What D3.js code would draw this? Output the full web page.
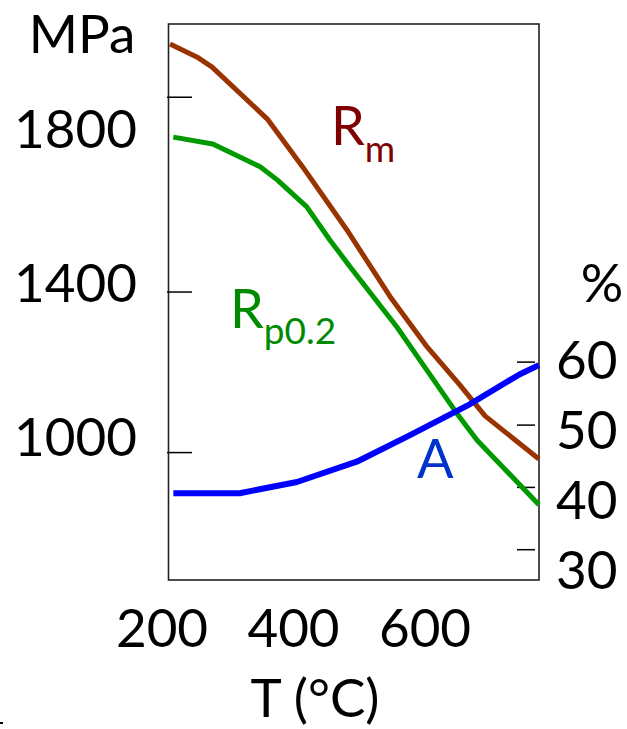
<!DOCTYPE html>
<html>
<head>
  <script src="https://cdn.jsdelivr.net/npm/d3@7"></script>
  <style>
    body { margin: 0; background: #fff; font-family: Lato, "Open Sans", sans-serif; }
    .lbl text { font-family: Lato, sans-serif; font-size: 53px; fill: #000; }
    .marks line { stroke: #000; stroke-width: 1.5; }
  </style>
</head>
<body>
  <div id="chart"></div>
  <script>
    // temperature (deg C) / strength (MPa) / elongation (%)
    const rmTemp = [213, 256, 277, 361, 415, 482, 548, 604, 654, 692, 774];
    const rmVal  = [2019, 1983, 1959, 1824, 1699, 1536, 1362, 1232, 1133, 1053, 941];

    const rpTemp = [218, 278, 350, 376, 421, 456, 487, 558, 593, 649, 680, 774];
    const rpVal  = [1777, 1759, 1700, 1666, 1596, 1510, 1440, 1284, 1198, 1060, 990, 822];

    const aTemp = [218, 319, 406, 497, 578, 665, 745, 774];
    const aVal  = [40.9, 40.9, 42.5, 45.4, 49.2, 53.4, 57.9, 59.2];

    const xTicks = [200, 400, 600];
    const leftTicks = [1000, 1400, 1800];
    const rightTicks = [30, 40, 50, 60];
    // the little tick marks do not sit on the labels in the original
    const leftMarks = [959, 1376, 1882];
    const rightMarks = [32.9, 41.8, 50.7, 59.7];

    const width = 627, height = 729;
    const box = { left: 168.5, right: 539, top: 24, bottom: 580 };

    const svg = d3.select("#chart").append("svg")
      .attr("width", width)
      .attr("height", height);

    const x = d3.scaleLinear().domain([200, 600]).range([161.5, 424.5]);
    const yL = d3.scaleLinear().domain([1000, 1800]).range([436.3, 128.3]);
    const yR = d3.scaleLinear().domain([30, 60]).range([569.5, 359.5]);
    const fmt = d3.format("d");

    // frame
    svg.append("rect")
      .attr("x", box.left).attr("y", box.top)
      .attr("width", box.right - box.left)
      .attr("height", box.bottom - box.top)
      .attr("fill", "none")
      .attr("stroke", "#222")
      .attr("stroke-width", 1.6);

    // tick marks
    const lm = svg.append("g").attr("class", "marks")
      .attr("transform", `translate(${box.left - 1.5},0)`)
      .call(d3.axisRight(yL).tickValues(leftMarks).tickSize(25).tickFormat(""));
    lm.select(".domain").remove();

    const rm = svg.append("g").attr("class", "marks")
      .attr("transform", `translate(${box.right - 4},0)`)
      .call(d3.axisLeft(yR).tickValues(rightMarks).tickSize(18).tickFormat(""));
    rm.select(".domain").remove();

    // tick labels
    const la = svg.append("g").attr("class", "lbl")
      .attr("transform", "translate(137,0)")
      .call(d3.axisLeft(yL).tickValues(leftTicks).tickFormat(fmt).tickSize(0).tickPadding(0));
    la.select(".domain").remove();
    la.selectAll("text").attr("dy", "0.36em");

    const ra = svg.append("g").attr("class", "lbl")
      .attr("transform", "translate(556,0)")
      .call(d3.axisRight(yR).tickValues(rightTicks).tickFormat(fmt).tickSize(0).tickPadding(0));
    ra.select(".domain").remove();
    ra.selectAll("text").attr("dy", "0.36em");

    const ba = svg.append("g").attr("class", "lbl")
      .attr("transform", "translate(0,647)")
      .call(d3.axisBottom(x).tickValues(xTicks).tickFormat(fmt).tickSize(0).tickPadding(0));
    ba.select(".domain").remove();
    ba.selectAll("text").attr("dy", null).attr("y", 0);

    // axis titles
    const title = svg.append("g").attr("class", "lbl");
    title.append("text").attr("x", 82).attr("y", 53).attr("text-anchor", "middle").text("MPa");
    title.append("text").attr("x", 602).attr("y", 302).attr("text-anchor", "middle").text("%");
    title.append("text").attr("x", 315).attr("y", 717).attr("text-anchor", "middle").text("T (°C)");

    // curves
    const mk = (ys) => d3.line().x(d => x(d[0])).y(d => ys(d[1]));

    const series = [
      { t: rmTemp, v: rmVal, scale: yL, color: "#993300", w: 5 },
      { t: rpTemp, v: rpVal, scale: yL, color: "#009900", w: 5 },
      { t: aTemp, v: aVal, scale: yR, color: "#0000ff", w: 6 }
    ];

    svg.append("g")
      .selectAll("path")
      .data(series)
      .join("path")
      .attr("fill", "none")
      .attr("stroke", d => d.color)
      .attr("stroke-width", d => d.w)
      .attr("stroke-linejoin", "round")
      .attr("d", d => mk(d.scale)(d.t.map((t, i) => [t, d.v[i]])));

    // series labels
    const sl = svg.append("g").style("font-family", "Lato, sans-serif");
    const rmLab = sl.append("text").attr("x", 331).attr("y", 145)
      .attr("fill", "#7f0000").style("font-size", "54px");
    rmLab.append("tspan").text("R");
    rmLab.append("tspan").attr("dy", 17).style("font-size", "37px").text("m");

    const rpLab = sl.append("text").attr("x", 230).attr("y", 328)
      .attr("fill", "#008a00").style("font-size", "54px");
    rpLab.append("tspan").text("R");
    rpLab.append("tspan").attr("dy", 16).style("font-size", "37px").text("p0.2");

    sl.append("text").attr("x", 417).attr("y", 478)
      .attr("fill", "#0033cc").style("font-size", "54px").text("A");

    // small stray mark at the bottom-left corner of the original
    svg.append("line")
      .attr("x1", 0).attr("x2", 3).attr("y1", 723).attr("y2", 723)
      .attr("stroke", "#000").attr("stroke-width", 2);
  </script>
</body>
</html>
